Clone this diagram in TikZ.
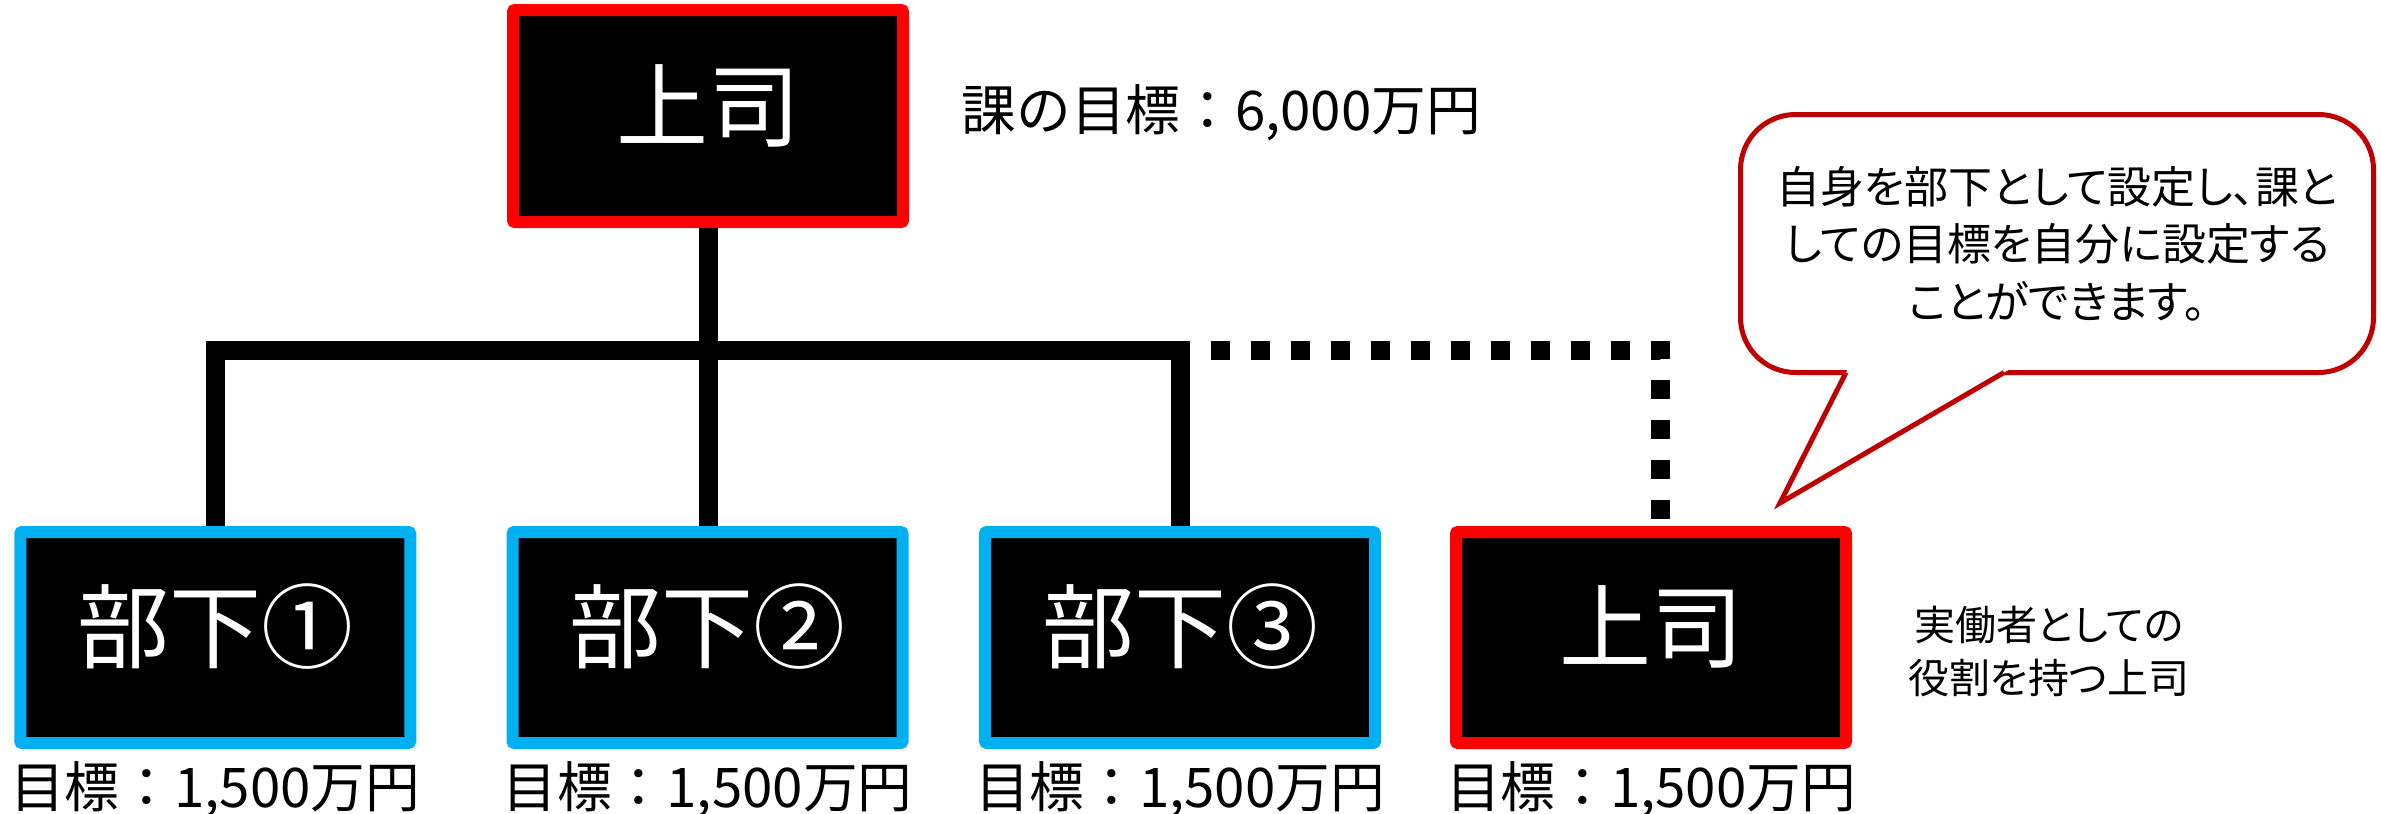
\documentclass[tikz,border=0pt]{standalone}
\usepackage{fontspec}
\newfontfamily\jp{Noto Sans CJK JP}
\newfontfamily\jpp[RawFeature=+palt]{Noto Sans CJK JP}
\definecolor{bblue}{HTML}{00B0F0}
\definecolor{bred}{HTML}{FF0000}
\definecolor{dred}{HTML}{C00000}
\begin{document}
\begin{tikzpicture}[x=0.3pt,y=-0.3pt,
  box/.style={rectangle, fill=black, line width=3.6pt, rounded corners=0.6pt,
    minimum width=117pt, minimum height=63.3pt, inner sep=0pt, text=white,
    font=\jp\fontsize{27.6pt}{30pt}\selectfont, text height=24.3pt, text depth=9.9pt},
  bossbox/.style={box, draw=bred},
  subbox/.style={box, draw=bblue},
  lbl/.style={font=\jp\fontsize{16.4pt}{20pt}\selectfont, inner sep=0pt,
    text height=14.1pt, text depth=1.9pt},
  note/.style={font=\jpp\fontsize{12.3pt}{15.9pt}\selectfont, inner sep=0pt, align=center},
  balloon/.style={rectangle, draw=dred, fill=white, line width=1.5pt, rounded corners=16.5pt,
    minimum width=189.9pt, minimum height=77.4pt, inner sep=0pt, align=center,
    font=\jpp\fontsize{13.2pt}{17.25pt}\selectfont},
  conn/.style={line width=5.7pt, line join=miter, line cap=butt},
  dotline/.style={line width=5.7pt, line join=miter, line cap=butt,
    dash pattern=on 5.7pt off 6.3pt, dash phase=5.7pt},
  ptr/.style={draw=dred, line width=1.5pt, line join=miter}
]
\useasboundingbox (0,0) rectangle (2381,814);

% boxes
\node[bossbox, minimum height=63.6pt] (top) at (708,116) {上司};
\node[subbox]  (b1) at (215.25,637.5) {部下①};
\node[subbox]  (b2) at (707.5,637.5) {部下②};
\node[subbox]  (b3) at (1180,637.5) {部下③};
\node[bossbox] (b4) at (1651,637.5) {上司};

% labels
\node[lbl, anchor=west] (toplbl) at (961,110) {課の目標：6,000万円};
\node[lbl] (l1) at ([yshift=-11.4pt]b1.south) {目標：1,500万円};
\node[lbl] (l2) at ([yshift=-11.4pt]b2.south) {目標：1,500万円};
\node[lbl] (l3) at ([yshift=-11.4pt]b3.south) {目標：1,500万円};
\node[lbl] (l4) at ([yshift=-11.4pt]b4.south) {目標：1,500万円};
\node[note] (n4) at (2049,651.5) {実働者としての\\役割を持つ上司};

% connectors
\coordinate (hl) at (0,350);
\draw[conn] (b1.north) -- (b1.north |- hl) -- (b3.north |- hl) -- (b3.north);
\draw[conn] (top.south) -- (top.south |- b2.north);
\coordinate (dS) at (1189.5,350);
\coordinate (dC) at (1660,350);
\draw[dotline] (dS) -- (dC) -- (dC |- b4.north);

% speech balloon
\node[balloon] (bal) at (2057,243.5) {自身を部下として設定し、課と\\しての目標を自分に設定する\\ことができます。};
\coordinate (pA) at (1846,372.5);
\coordinate (pB) at (2004,372.5);
\coordinate (tip) at (1780,503);
\fill[white] (1848.3,368) -- (2011.7,368) -- (tip) -- cycle;
\draw[ptr] (pA) -- (tip) -- (pB);
\end{tikzpicture}
\end{document}
